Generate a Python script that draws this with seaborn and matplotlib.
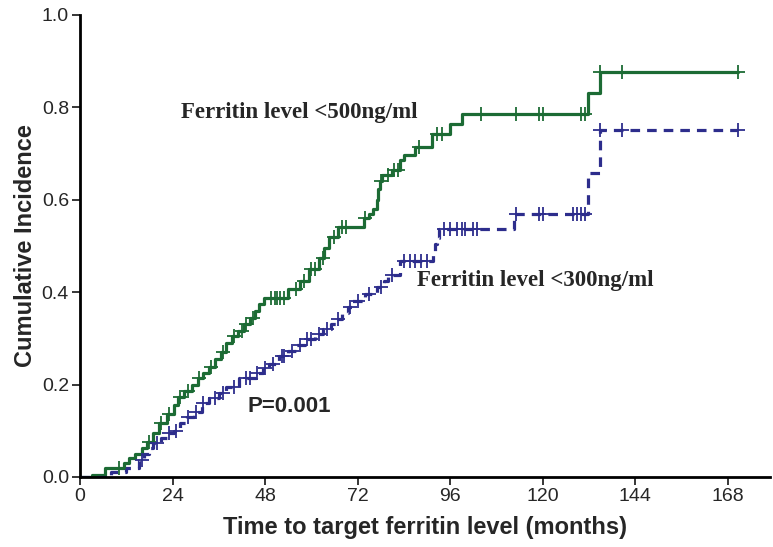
import numpy as np
import pandas as pd
import matplotlib
matplotlib.use("Agg")
import matplotlib.pyplot as plt
import seaborn as sns

# step curve for ferritin < 500 ng/ml (month, cumulative incidence after step)
t_500 = [0, 3, 6.5, 11.4, 12.7, 14.3, 16, 17.4, 19, 20.5, 22.6, 24.4, 25.5, 27, 29,
         30.5, 32, 33.5, 35, 36.5, 38, 39.5, 41, 42.5, 44, 45.5, 46.5, 47.8, 54, 57,
         59.5, 62, 63.4, 64.7, 67, 73.8, 75, 76, 77, 77.4, 77.9, 78.4, 81, 83, 84,
         86.8, 91.4, 96, 99, 131.7, 135, 170.6]
ci_500 = [0, 0.005, 0.02, 0.03, 0.04, 0.05, 0.062, 0.075, 0.095, 0.116, 0.137, 0.155,
          0.172, 0.187, 0.2, 0.215, 0.226, 0.237, 0.255, 0.27, 0.29, 0.305, 0.315, 0.33,
          0.344, 0.36, 0.374, 0.387, 0.406, 0.424, 0.45, 0.473, 0.495, 0.52, 0.54, 0.56,
          0.57, 0.58, 0.60, 0.624, 0.64, 0.654, 0.665, 0.686, 0.697, 0.714, 0.742, 0.763,
          0.785, 0.83, 0.877, 0.877]
cens_500 = [10, 18, 21, 23, 26, 28, 31, 34, 37, 40, 42, 43, 45, 49.6, 50.5, 51, 52, 53,
            56, 58, 60, 61, 63, 66, 68, 69, 74, 78, 80, 81.5, 82.5, 88, 92.5, 93.8, 104,
            113, 119, 120, 130, 131, 135, 140.5, 170.6]

# step curve for ferritin < 300 ng/ml
t_300 = [0, 8, 12, 15.3, 16.6, 18, 19, 21, 22.6, 24.4, 26, 27.8, 29.6, 31.7, 33.5, 36,
         38, 41.3, 45.7, 47.5, 49, 51.7, 54, 56, 58.5, 61, 63, 65, 66.5, 68, 69.5, 70.7,
         74, 77, 79, 80, 83, 91.5, 92.2, 92.7, 93.2, 112.7, 131.7, 135, 170.6]
ci_300 = [0, 0.01, 0.02, 0.037, 0.05, 0.062, 0.073, 0.084, 0.095, 0.1, 0.116, 0.13, 0.14,
          0.16, 0.17, 0.182, 0.194, 0.215, 0.226, 0.235, 0.245, 0.262, 0.272, 0.285,
          0.298, 0.31, 0.32, 0.33, 0.342, 0.355, 0.367, 0.38, 0.395, 0.41, 0.424, 0.438,
          0.467, 0.48, 0.503, 0.516, 0.537, 0.57, 0.658, 0.75, 0.75]
cens_300 = [16, 20, 23, 25, 28, 30, 32, 35, 37, 40, 43, 44, 46, 48, 50, 52.5, 53, 55, 57,
            59, 60, 62, 64, 67, 70, 72, 75, 78, 81, 84, 85.5, 87, 88.5, 90, 94.5, 96,
            97.7, 99, 100, 102, 103, 113.2, 119.2, 120, 128, 129, 130, 131, 135, 140.5,
            170.6]

x_ticks = [0, 24, 48, 72, 96, 120, 144, 168]
y_ticks = [0.0, 0.2, 0.4, 0.6, 0.8, 1.0]

green = "#1c6b34"
navy = "#2d2d8c"


def level_at(times, levels, when):
    idx = np.searchsorted(times, when, side="right") - 1
    return np.asarray(levels)[idx]


sns.set_style("white")
plt.rcParams["font.family"] = ["Liberation Sans", "DejaVu Sans"]

fig = plt.figure(figsize=(7.73, 5.47), dpi=100)
ax = fig.add_axes([0.1035, 0.128, 0.8925, 0.845])

df500 = pd.DataFrame({"t": t_500, "ci": ci_500})
df300 = pd.DataFrame({"t": t_300, "ci": ci_300})

sns.lineplot(data=df500, x="t", y="ci", drawstyle="steps-post", estimator=None,
             sort=False, color=green, lw=2.3, ax=ax)
sns.lineplot(data=df300, x="t", y="ci", drawstyle="steps-post", estimator=None,
             sort=False, color=navy, lw=2.3, ax=ax, dashes=False, linestyle=(0, (3, 2.2)))

c500 = pd.DataFrame({"t": cens_500, "ci": level_at(t_500, ci_500, cens_500)})
c300 = pd.DataFrame({"t": cens_300, "ci": level_at(t_300, ci_300, cens_300)})
sns.scatterplot(data=c500, x="t", y="ci", marker="+", s=90, color=green,
                linewidth=1.3, ax=ax, zorder=3)
sns.scatterplot(data=c300, x="t", y="ci", marker="+", s=90, color=navy,
                linewidth=1.3, ax=ax, zorder=3)

ax.set_xlim(0, 179)
ax.set_ylim(0, 1.0)
ax.set_xticks(x_ticks)
ax.set_yticks(y_ticks)
ax.set_yticklabels([f"{v:.1f}" for v in y_ticks])
ax.tick_params(axis="both", direction="out", length=6, width=1.3, labelsize=14,
               bottom=True, left=True, pad=2)

for side in ["top", "right"]:
    ax.spines[side].set_visible(False)
for side in ["left", "bottom"]:
    ax.spines[side].set_linewidth(2)
    ax.spines[side].set_color("black")

ax.set_xlabel("Time to target ferritin level (months)", fontsize=17, fontweight="bold",
              labelpad=8)
ax.set_ylabel("Cumulative Incidence", fontsize=17, fontweight="bold", labelpad=3)

ax.text(26.2, 0.788, "Ferritin level <500ng/ml", family="Liberation Serif",
        fontweight="bold", fontsize=16.5, ha="left", va="center")
ax.text(87.5, 0.426, "Ferritin level <300ng/ml", family="Liberation Serif",
        fontweight="bold", fontsize=16.5, ha="left", va="center")
ax.text(43.4, 0.152, "P=0.001", fontweight="bold", fontsize=16, ha="left", va="center")

fig.savefig("out.png", dpi=100)
